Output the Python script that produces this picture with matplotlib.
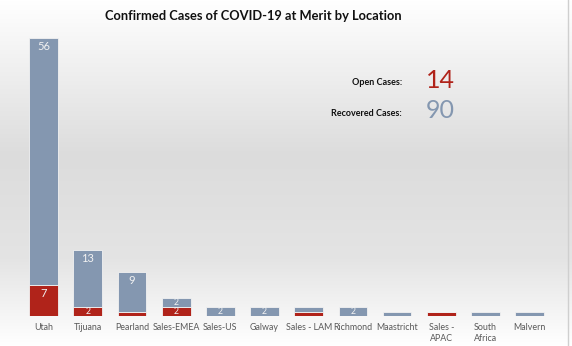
import numpy as np
import matplotlib.pyplot as plt
from matplotlib.colors import LinearSegmentedColormap

# Locations and case counts
locations = ['Utah', 'Tijuana', 'Pearland', 'Sales-EMEA', 'Sales-US', 'Galway',
             'Sales - LAM', 'Richmond', 'Maastricht', 'Sales -\nAPAC', 'South\nAfrica', 'Malvern']
open_cases = [7, 2, 1, 2, 0, 0, 1, 0, 0, 1, 0, 0]
recovered_cases = [56, 13, 9, 2, 2, 2, 1, 2, 1, 0, 1, 1]

red = '#B0231A'
grey = '#8497B0'

plt.rcParams['font.family'] = ['Lato', 'DejaVu Sans']

fig = plt.figure(figsize=(5.72, 3.46), dpi=100)

# Background gradient
bg = fig.add_axes([0, 0, 1, 1], zorder=0)
cmap = LinearSegmentedColormap.from_list(
    'bg', [(0, '#ffffff'), (0.45, '#dcdcdc'), (0.75, '#e4e4e4'), (1.0, '#ffffff')])
bg.imshow(np.linspace(0, 1, 256).reshape(-1, 1), aspect='auto', cmap=cmap,
          extent=[0, 1, 0, 1], origin='upper')
bg.axvline(0.993, color='#cfcfcf', lw=1)
bg.set_xlim(0, 1)
bg.set_ylim(0, 1)
bg.axis('off')

ax = fig.add_axes([0.0376, 0.0867, 0.927, 0.829], zorder=1)
ax.patch.set_alpha(0)

x = np.arange(len(locations))
ax.bar(x, open_cases, width=0.65, color=red, edgecolor='#f2f2f2', linewidth=0.6)
ax.bar(x, recovered_cases, width=0.65, bottom=open_cases, color=grey,
       edgecolor='#f2f2f2', linewidth=0.6)

# Data labels (only values of 2 or more)
for i in range(len(locations)):
    o = open_cases[i]
    r = recovered_cases[i]
    if o >= 2:
        ax.text(i, o - min(2.0, o / 2), str(o), ha='center', va='center',
                color='#f2f2f2', fontsize=8 if o > 3 else 6.3)
    if r >= 2:
        ax.text(i, o + r - min(2.0, r / 2), str(r), ha='center', va='center',
                color='#f2f2f2', fontsize=8 if r > 3 else 6.3)

ax.set_xlim(-0.5, len(locations) - 0.5)
ax.set_ylim(0, 65)
ax.set_xticks(x)
ax.set_xticklabels(locations, fontsize=6.4, color='#595959', linespacing=1.3)
ax.tick_params(axis='x', length=0, pad=5)
ax.set_yticks([])
for s in ax.spines.values():
    s.set_visible(False)

fig.text(0.442, 0.955, 'Confirmed Cases of COVID-19 at Merit by Location',
         ha='center', va='center', fontsize=9.3, fontweight='bold', color='#111111')

# Summary totals
fig.text(0.703, 0.762, 'Open Cases:', ha='right', va='center', fontsize=6.5,
         fontweight='bold', color='#111111')
fig.text(0.745, 0.768, str(sum(open_cases)), ha='left', va='center', fontsize=18,
         color=red)
fig.text(0.703, 0.672, 'Recovered Cases:', ha='right', va='center', fontsize=6.5,
         fontweight='bold', color='#111111')
fig.text(0.745, 0.68, str(sum(recovered_cases)), ha='left', va='center', fontsize=18,
         color=grey)

fig.savefig('out.png', dpi=100)
